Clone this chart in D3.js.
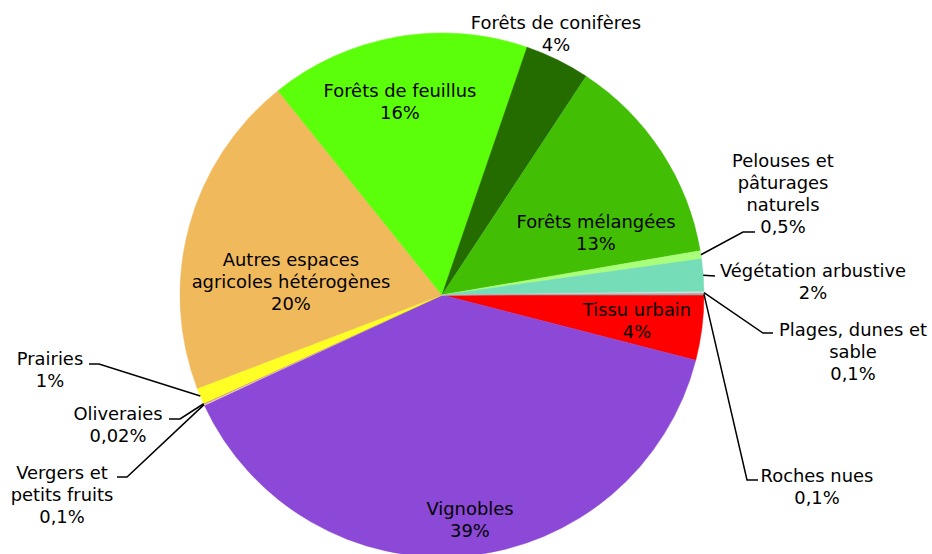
<!DOCTYPE html>
<html>
<head>
<meta charset="utf-8">
<script src="https://cdn.jsdelivr.net/npm/d3@7"></script>
<style>
  html, body { margin: 0; padding: 0; background: #fff; }
  svg { display: block; }
  text { font-family: "DejaVu Sans", Verdana, sans-serif; font-size: 17.9px; fill: #000; }
</style>
</head>
<body>
<svg id="chart" width="932" height="554"></svg>
<script>
// ---- data ----
const categories = [
  "Tissu urbain", "Vignobles", "Vergers et petits fruits", "Oliveraies", "Prairies",
  "Autres espaces agricoles hétérogènes", "Forêts de feuillus", "Forêts de conifères",
  "Forêts mélangées", "Pelouses et pâturages naturels", "Végétation arbustive",
  "Plages, dunes et sable", "Roches nues"
];
const values = [4, 39, 0.1, 0.02, 1, 20, 16, 4, 13, 0.5, 2, 0.1, 0.1];
const percentLabels = ["4%", "39%", "0,1%", "0,02%", "1%", "20%", "16%", "4%", "13%", "0,5%", "2%", "0,1%", "0,1%"];
const nameLines = [
  ["Tissu urbain"], ["Vignobles"], ["Vergers et", "petits fruits"], ["Oliveraies"], ["Prairies"],
  ["Autres espaces", "agricoles hétérogènes"], ["Forêts de feuillus"], ["Forêts de conifères"],
  ["Forêts mélangées"], ["Pelouses et", "pâturages", "naturels"], ["Végétation arbustive"],
  ["Plages, dunes et", "sable"], ["Roches nues"]
];

// ---- styles & layout ----
const colors = ["#FF0000", "#8C48D6", "#F5B8C8", "#8A8A2E", "#FFFF26", "#F0B95C", "#5CFF0A",
                "#246B00", "#42BF04", "#AAFF7A", "#75DDB8", "#DCDCDC", "#A6A6A6"];
// label anchor: centre x, first baseline y
const labelAnchor = [
  [637, 316], [470, 515], [62, 479], [118, 420], [50, 365], [291, 266], [400, 97],
  [556, 29], [596, 228], [783, 167], [813, 277], [853, 336], [817, 482]
];
// leader lines: [elbow, end] or null
const leaders = [
  null, null, [[127, 477], [117, 477]], [[180, 419], [169, 419]], [[99, 364], [89, 364]],
  null, null, null, null, [[743, 232], [755, 232]], [[715, 276], [715, 276]],
  [[763, 333], [773, 333]], [[747, 480], [758, 480]]
];
const cx = 442, cy = 295, radius = 262, lineH = 22;

const svg = d3.select("#chart");
const g = svg.append("g").attr("transform", `translate(${cx},${cy})`);

const pie = d3.pie().sort(null).value(d => d)
  .startAngle(Math.PI / 2).endAngle(Math.PI / 2 + 2 * Math.PI);
const arcs = pie(values);
const arc = d3.arc().innerRadius(0).outerRadius(radius);

g.selectAll("path.slice").data(arcs).enter().append("path")
  .attr("class", "slice")
  .attr("d", arc)
  .attr("fill", (d, i) => colors[i])
  .attr("stroke", (d, i) => colors[i])
  .attr("stroke-width", 0.5);

// leader lines
arcs.forEach((d, i) => {
  if (!leaders[i]) return;
  const mid = (d.startAngle + d.endAngle) / 2;
  const sx = cx + radius * Math.sin(mid);
  const sy = cy - radius * Math.cos(mid);
  const pts = [[sx, sy], leaders[i][0], leaders[i][1]];
  svg.append("path")
    .attr("d", d3.line()(pts))
    .attr("fill", "none")
    .attr("stroke", "#000")
    .attr("stroke-width", 1.5);
});

// labels
categories.forEach((c, i) => {
  const lines = nameLines[i].concat([percentLabels[i]]);
  const t = svg.append("text")
    .attr("text-anchor", "middle")
    .attr("x", labelAnchor[i][0])
    .attr("y", labelAnchor[i][1]);
  lines.forEach((ln, k) => {
    t.append("tspan")
      .attr("x", labelAnchor[i][0])
      .attr("y", labelAnchor[i][1] + k * lineH)
      .text(ln);
  });
});
</script>
</body>
</html>
